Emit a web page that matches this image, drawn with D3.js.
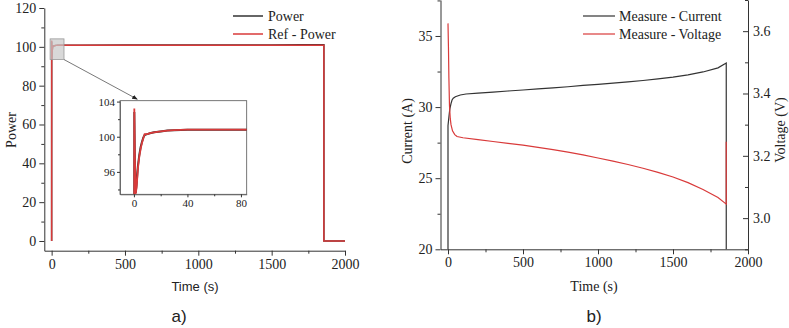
<!DOCTYPE html>
<html>
<head>
<meta charset="utf-8">
<script src="https://cdn.jsdelivr.net/npm/d3@7"></script>
<style>
  body { margin: 0; background: #fff; }
  svg text { fill: #222; }
  .axis path, .axis line { stroke: #333; }
</style>
</head>
<body>
<div id="chart"></div>
<script>
// panel a) power vs reference
const powerTime = [0, 0, 0.3, 0.7, 1.3, 2, 3, 4, 5, 6, 7, 8, 10, 12, 15, 20, 25, 30, 40, 50, 60, 70, 84, 200, 500, 1000, 1500, 1700, 1856, 1856, 2000];
const refPower  = [0, 0, 103.2, 98, 93.5, 94.2, 96.4, 97.7, 98.6, 99.3, 99.8, 100.3, 100.3, 100.4, 100.5, 100.6, 100.7, 100.75, 100.8, 100.8, 100.8, 100.8, 100.8, 100.8, 100.8, 100.8, 100.8, 100.8, 100.8, 0, 0];
const measPower = [0, 0, 102.8, 97.5, 93.6, 94.6, 96.7, 97.9, 98.8, 99.4, 99.9, 100.2, 100.3, 100.4, 100.5, 100.6, 100.7, 100.75, 100.8, 100.8, 100.8, 100.8, 100.8, 100.8, 100.9, 100.9, 101.0, 101.1, 101.1, 0, 0];

// panel b) measured current and voltage
const currentTime = [0, 0, 3, 8, 12, 20, 27, 35, 49, 82, 120, 200, 300, 400, 500, 600, 700, 800, 900, 1000, 1100, 1200, 1300, 1400, 1500, 1600, 1700, 1800, 1855, 1855];
const currentVal  = [20, 28.7, 29.0, 29.5, 29.85, 30.25, 30.5, 30.62, 30.73, 30.85, 30.92, 30.98, 31.05, 31.13, 31.2, 31.28, 31.35, 31.43, 31.52, 31.6, 31.68, 31.77, 31.87, 31.98, 32.11, 32.27, 32.47, 32.76, 33.1, 20];
const voltageTime = [0, 3, 6, 10, 15, 20, 30, 45, 60, 100, 200, 300, 400, 500, 600, 700, 800, 900, 1000, 1100, 1200, 1300, 1400, 1500, 1600, 1700, 1800, 1855, 1855];
const voltageVal  = [3.625, 3.55, 3.45, 3.36, 3.32, 3.30, 3.28, 3.268, 3.262, 3.258, 3.252, 3.246, 3.24, 3.234, 3.227, 3.22, 3.212, 3.203, 3.193, 3.183, 3.172, 3.16, 3.147, 3.132, 3.114, 3.092, 3.066, 3.045, 3.245];

const timeTicks = [0, 500, 1000, 1500, 2000];
const timeMinor = [250, 750, 1250, 1750];
const powerTicks = [0, 20, 40, 60, 80, 100, 120];
const powerMinor = [10, 30, 50, 70, 90, 110];
const insetXTicks = [0, 40, 80];
const insetXMinor = [20, 60];
const insetYTicks = [96, 100, 104];
const insetYMinor = [94, 98, 102];
const currentTicks = [20, 25, 30, 35];
const currentMinor = [22.5, 27.5, 32.5, 37.5];
const voltageTicks = [3.0, 3.2, 3.4, 3.6];
const voltageMinor = [2.9, 3.1, 3.3, 3.5, 3.7];

const legendA = ["Power", "Ref - Power"];
const legendB = ["Measure - Current", "Measure - Voltage"];
const black = "#333";
const red = "#d93a3a";
const serif = '"Liberation Serif", "Times New Roman", serif';
const sans = '"Liberation Sans", Arial, sans-serif';

const svg = d3.select("#chart").append("svg")
    .attr("width", 789)
    .attr("height", 328);

function drawAxis(g, axis, minorAxis, size) {
    g.attr("class", "axis").call(axis)
        .attr("font-family", serif)
        .attr("font-size", size || 14);
    g.selectAll("text").style("font-family", serif).style("font-size", (size || 14) + "px");
    g.append("g").call(minorAxis).select(".domain").remove();
}

// ---------- panel a ----------
const xA = d3.scaleLinear().domain([-50, 2000]).range([44.3, 345]);
const yA = d3.scaleLinear().domain([-5, 120]).range([250.7, 8]);

drawAxis(svg.append("g").attr("transform", "translate(0,250.7)"),
    d3.axisBottom(xA).tickValues(timeTicks).tickSize(5).tickPadding(3).tickSizeOuter(0).tickFormat(d3.format("d")),
    d3.axisBottom(xA).tickValues(timeMinor).tickSize(3).tickFormat(""));
drawAxis(svg.append("g").attr("transform", "translate(44.3,0)"),
    d3.axisLeft(yA).tickValues(powerTicks).tickSize(5).tickPadding(3).tickSizeOuter(0),
    d3.axisLeft(yA).tickValues(powerMinor).tickSize(3).tickFormat(""));

const lineA = d3.line()
    .x((d, i) => xA(powerTime[i]))
    .y(d => yA(d));

svg.append("path").datum(measPower)
    .attr("fill", "none").attr("stroke", black).attr("stroke-width", 1.5)
    .attr("d", lineA);
svg.append("path").datum(refPower)
    .attr("fill", "none").attr("stroke", red).attr("stroke-width", 1.5)
    .attr("d", lineA);

// inset
const xI = d3.scaleLinear().domain([-10.4, 84.3]).range([120, 246.7]);
const yI = d3.scaleLinear().domain([93.45, 104.1]).range([194.3, 100.7]);

// zoom rectangle on main plot
svg.append("rect")
    .attr("x", xA(-10.4)).attr("y", yA(104.1))
    .attr("width", xA(84.3) - xA(-10.4))
    .attr("height", yA(93.45) - yA(104.1))
    .attr("fill", "#c8c8c8").attr("fill-opacity", 0.7)
    .attr("stroke", "#999").attr("stroke-width", 0.8);

svg.append("defs").append("marker")
    .attr("id", "arrow").attr("viewBox", "0 0 10 10")
    .attr("refX", 9).attr("refY", 5)
    .attr("markerWidth", 7).attr("markerHeight", 7)
    .attr("orient", "auto")
    .append("path").attr("d", "M0,1L10,5L0,9z").attr("fill", "#222");

svg.append("line")
    .attr("x1", xA(84.3)).attr("y1", yA(93.45))
    .attr("x2", xI(2.5)).attr("y2", yI(104.1) - 1.5)
    .attr("stroke", "#555").attr("stroke-width", 0.8)
    .attr("marker-end", "url(#arrow)");

svg.append("rect")
    .attr("x", 120).attr("y", 100.7)
    .attr("width", 126.7).attr("height", 93.6)
    .attr("fill", "#fff").attr("stroke", "#555").attr("stroke-width", 0.8);

svg.append("clipPath").attr("id", "insetClip")
    .append("rect").attr("x", 120).attr("y", 100.7)
    .attr("width", 126.7).attr("height", 93.6);

const lineI = d3.line()
    .x((d, i) => xI(powerTime[i]))
    .y(d => yI(d));

const inset = svg.append("g").attr("clip-path", "url(#insetClip)");
inset.append("path").datum(measPower)
    .attr("fill", "none").attr("stroke", black).attr("stroke-width", 2)
    .attr("d", lineI);
inset.append("path").datum(refPower)
    .attr("fill", "none").attr("stroke", red).attr("stroke-width", 1.8)
    .attr("d", lineI);

const ixAxis = svg.append("g").attr("transform", "translate(0,194.3)");
drawAxis(ixAxis,
    d3.axisBottom(xI).tickValues(insetXTicks).tickSize(3).tickPadding(2).tickSizeOuter(0),
    d3.axisBottom(xI).tickValues(insetXMinor).tickSize(2).tickFormat(""), 11);
const iyAxis = svg.append("g").attr("transform", "translate(120,0)");
drawAxis(iyAxis,
    d3.axisLeft(yI).tickValues(insetYTicks).tickSize(3).tickPadding(2).tickSizeOuter(0),
    d3.axisLeft(yI).tickValues(insetYMinor).tickSize(2).tickFormat(""), 11);
ixAxis.select(".domain").style("stroke", "#555").attr("stroke-width", 0.8);
iyAxis.select(".domain").style("stroke", "#555").attr("stroke-width", 0.8);

// legend a
legendA.forEach((name, i) => {
    const y = 16 + i * 18;
    svg.append("line").attr("x1", 233).attr("x2", 263).attr("y1", y).attr("y2", y)
        .attr("stroke", i === 0 ? black : red).attr("stroke-width", 1.5);
    svg.append("text").attr("x", 268).attr("y", y).attr("dy", "0.35em")
        .style("font-family", serif).style("font-size", "14px").text(name);
});

svg.append("text")
    .attr("transform", "translate(16,130) rotate(-90)")
    .attr("text-anchor", "middle")
    .style("font-family", serif).style("font-size", "14px").text("Power");
svg.append("text").attr("x", 195).attr("y", 291)
    .attr("text-anchor", "middle")
    .style("font-family", sans).style("font-size", "13px").text("Time (s)");
svg.append("text").attr("x", 179).attr("y", 322)
    .attr("text-anchor", "middle")
    .style("font-family", sans).style("font-size", "17px").text("a)");

// ---------- panel b ----------
const xB = d3.scaleLinear().domain([-50, 2000]).range([440.5, 748]);
const yC = d3.scaleLinear().domain([20, 37.53]).range([249.3, 0]);
const yV = d3.scaleLinear().domain([2.9, 3.7]).range([249.3, 0]);

drawAxis(svg.append("g").attr("transform", "translate(0,249.3)"),
    d3.axisBottom(xB).tickValues(timeTicks).tickSize(5).tickPadding(3).tickSizeOuter(0).tickFormat(d3.format("d")),
    d3.axisBottom(xB).tickValues(timeMinor).tickSize(3).tickFormat(""));
drawAxis(svg.append("g").attr("transform", "translate(440.5,0)"),
    d3.axisLeft(yC).tickValues(currentTicks).tickSize(5).tickPadding(3).tickSizeOuter(0),
    d3.axisLeft(yC).tickValues(currentMinor).tickSize(3).tickFormat(""));
drawAxis(svg.append("g").attr("transform", "translate(748,0)"),
    d3.axisRight(yV).tickValues(voltageTicks).tickSize(-5).tickPadding(5).tickSizeOuter(0).tickFormat(d3.format(".1f")),
    d3.axisRight(yV).tickValues(voltageMinor).tickSize(-3).tickFormat(""));

svg.append("path").datum(currentVal)
    .attr("fill", "none").attr("stroke", black).attr("stroke-width", 1.2)
    .attr("d", d3.line().x((d, i) => xB(currentTime[i])).y(d => yC(d)));
svg.append("path").datum(voltageVal)
    .attr("fill", "none").attr("stroke", red).attr("stroke-width", 1.2)
    .attr("d", d3.line().x((d, i) => xB(voltageTime[i])).y(d => yV(d)));

legendB.forEach((name, i) => {
    const y = 16 + i * 18;
    svg.append("line").attr("x1", 583).attr("x2", 615).attr("y1", y).attr("y2", y)
        .attr("stroke", i === 0 ? black : red).attr("stroke-width", 1.2);
    svg.append("text").attr("x", 619).attr("y", y).attr("dy", "0.35em")
        .style("font-family", serif).style("font-size", "14px").text(name);
});

svg.append("text")
    .attr("transform", "translate(412,131) rotate(-90)")
    .attr("text-anchor", "middle")
    .style("font-family", serif).style("font-size", "14px").text("Current (A)");
svg.append("text")
    .attr("transform", "translate(785,130) rotate(-90)")
    .attr("text-anchor", "middle")
    .style("font-family", serif).style("font-size", "14px").text("Voltage (V)");
svg.append("text").attr("x", 594).attr("y", 291)
    .attr("text-anchor", "middle")
    .style("font-family", serif).style("font-size", "14px").text("Time (s)");
svg.append("text").attr("x", 594).attr("y", 322)
    .attr("text-anchor", "middle")
    .style("font-family", sans).style("font-size", "17px").text("b)");
</script>
</body>
</html>
